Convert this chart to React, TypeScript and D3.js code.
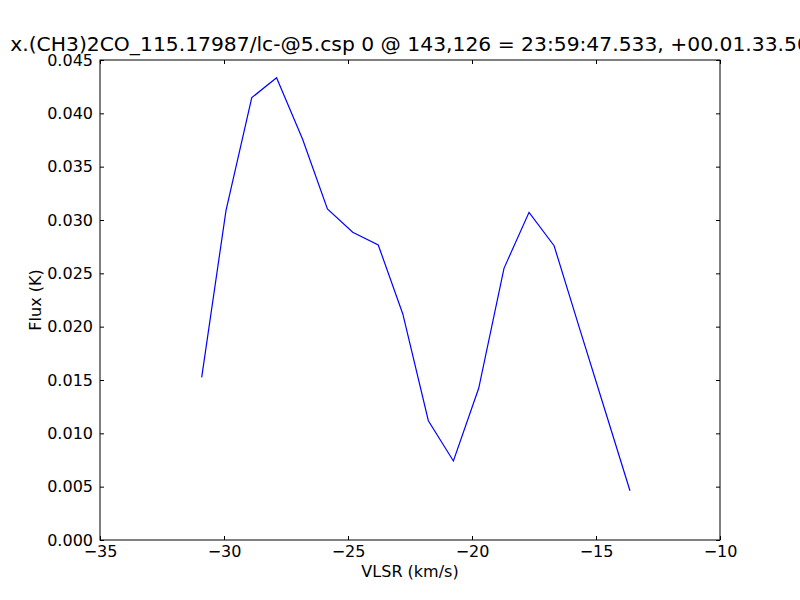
import { useEffect, useRef } from "react";
import * as d3 from "d3";

const WIDTH = 800;
const HEIGHT = 600;
const MARGIN = { top: 60, right: 80, bottom: 60, left: 100 };

const TITLE = "x.(CH3)2CO_115.17987/lc-@5.csp 0 @ 143,126 = 23:59:47.533, +00.01.33.50";

// velocity (km/s) and flux (K)
const vlsr = [
  -30.9, -29.92, -28.88, -27.88, -26.83, -25.83, -24.81, -23.78, -22.79,
  -21.76, -20.75, -19.73, -18.71, -17.7, -16.69, -15.67, -14.64, -13.63,
];
const flux = [
  0.01525, 0.03087, 0.04147, 0.04334, 0.03757, 0.03103, 0.02885, 0.02766, 0.02119,
  0.01118, 0.00741, 0.01422, 0.02547, 0.03072, 0.02759, 0.01988, 0.01219, 0.00462,
];

const xTicks = [-35, -30, -25, -20, -15, -10];
const yTicks = [0, 0.005, 0.01, 0.015, 0.02, 0.025, 0.03, 0.035, 0.04, 0.045];

const FONT = "'DejaVu Sans', sans-serif";

export default function App() {
  const ref = useRef<SVGSVGElement>(null);

  useEffect(() => {
    const svg = d3.select(ref.current);
    svg.selectAll("*").remove();

    const w = WIDTH - MARGIN.left - MARGIN.right;
    const h = HEIGHT - MARGIN.top - MARGIN.bottom;

    const x = d3.scaleLinear().domain([-35, -10]).range([0, w]);
    const y = d3.scaleLinear().domain([0, 0.045]).range([h, 0]);

    const g = svg.append("g").attr("transform", `translate(${MARGIN.left},${MARGIN.top})`);

    const minus = (v: number) => (v < 0 ? "\u2212" + Math.abs(v) : String(v));

    // bottom / top axes with inward ticks
    const bottom = g
      .append("g")
      .attr("transform", `translate(0,${h})`)
      .call(d3.axisBottom(x).tickValues(xTicks).tickSize(-4).tickPadding(6).tickFormat((d) => minus(d as number)));
    const top = g.append("g").call(d3.axisTop(x).tickValues(xTicks).tickSize(-4).tickFormat(() => ""));
    const left = g
      .append("g")
      .call(d3.axisLeft(y).tickValues(yTicks).tickSize(-4).tickPadding(7).tickFormat((d) => (d as number).toFixed(3)));
    const right = g
      .append("g")
      .attr("transform", `translate(${w},0)`)
      .call(d3.axisRight(y).tickValues(yTicks).tickSize(-4).tickFormat(() => ""));

    [bottom, top, left, right].forEach((a) => {
      a.select(".domain").remove();
      a.selectAll("line").attr("stroke", "#000").attr("stroke-width", 1);
      a.selectAll("text").attr("font-family", FONT).attr("font-size", 16).attr("fill", "#000");
    });

    const line = d3
      .line<number>()
      .x((_, i) => x(vlsr[i]))
      .y((d) => y(d));

    g.append("path")
      .datum(flux)
      .attr("d", line)
      .attr("fill", "none")
      .attr("stroke", "#0000ff")
      .attr("stroke-width", 1.2);

    g.append("rect")
      .attr("width", w)
      .attr("height", h)
      .attr("fill", "none")
      .attr("stroke", "#000")
      .attr("stroke-width", 1);

    // title is wider than the figure, as in the original, and runs off the right edge
    g.append("text")
      .attr("x", w / 2)
      .attr("y", -9)
      .attr("text-anchor", "middle")
      .attr("font-family", FONT)
      .attr("font-size", 20.3)
      .text(TITLE);

    g.append("text")
      .attr("x", w / 2)
      .attr("y", h + 37)
      .attr("text-anchor", "middle")
      .attr("font-family", FONT)
      .attr("font-size", 16)
      .text("VLSR (km/s)");

    g.append("text")
      .attr("transform", `translate(${-MARGIN.left + 41},${h / 2}) rotate(-90)`)
      .attr("text-anchor", "middle")
      .attr("font-family", FONT)
      .attr("font-size", 16)
      .text("Flux (K)");
  }, []);

  return (
    <svg
      ref={ref}
      width={WIDTH}
      height={HEIGHT}
      style={{ position: "absolute", left: 0, top: 0, background: "#fff" }}
    />
  );
}
